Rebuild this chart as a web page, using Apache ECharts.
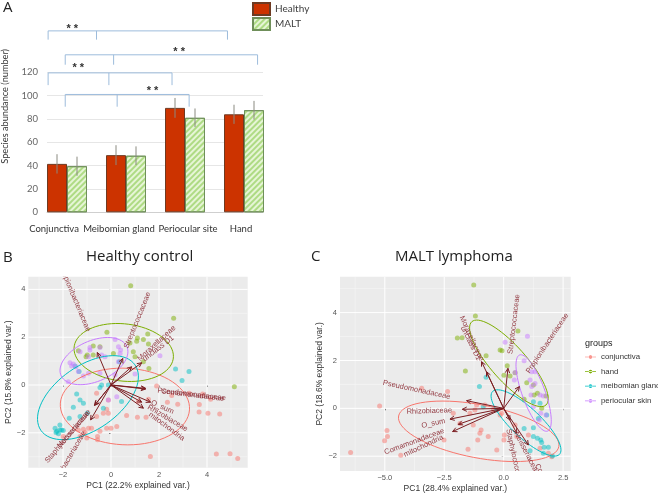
<!DOCTYPE html>
<html><head><meta charset="utf-8">
<style>html,body{margin:0;padding:0;background:#fff}#c{width:658px;height:494px}</style>
<script src="https://cdn.jsdelivr.net/npm/echarts@6/dist/echarts.min.js"></script>
</head><body><div id="c"></div>
<script>
// Panel A
const sites = ['Conjunctiva','Meibomian gland','Periocular site','Hand'];
const healthy = [41.5,49,89.5,84];
const malt = [39.5,48.5,81,87.5];
const healthyErr = [8.3,8.5,8.5,8.2];
const maltErr = [8.2,8,8,8];
// brackets: left, middle, right (site axis position), top, bottom (abundance), star x, star y
const brackets = [
 [0.18,1.0,3.22,155.5,148,0.59,157.5],
 [0.47,1.29,3.73,135,126.5,2.4,137.5],
 [0.18,1.21,2.28,119.5,109,0.69,123.5],
 [0.47,1.35,2.57,101,90.5,1.95,104]
];
// Panel B
const bConj = [[4.96,-2.88],[4.39,-2.89],[5.28,-3.07],[1.64,-2.99],[4.53,-1.21],[4.04,-1.18],[3.67,-1.13],[3.68,-.82],[3.26,-.35],[3.82,-.38],[4.15,-.6],[2.78,-.81],[2.35,-.72],[1.9,-.04],[2.53,-.44],[.65,-1.28],[1.46,-1.35],[1.1,-1.35],[-.6,-.35],[-.11,-.63],[-.18,-1.01],[-.11,-1.18],[-.32,-1.18],[-.6,-1.32],[-.94,-1.81],[-1.15,-1.85],[-1.36,-1.88],[-.81,-1.81],[-.46,-1.94],[-.18,-1.81],[0,-1.81],[-1.01,-2.22],[-.56,-2.15],[-.56,-2.29],[-1.08,-1.99],[-1.29,-2.15],[-1.99,-2.15],[.24,-1.74],[1.14,-.69],[1.56,-.6]];
const bHand = [[.82,4.15],[2.61,2.79],[-.17,2.21],[5.14,-.07],[1.1,1.97],[1.07,1.83],[1.53,2.13],[1.35,1.9],[.79,1.76],[1.56,1.71],[.93,1.39],[1,1.18],[1.58,.69],[-.74,1.63],[-1.36,1.43],[-.99,1.25],[-1.04,1.18],[.1,1.32],[-.74,1.25],[1.35,.97],[-.46,1.6]];
const bMeib = [[2.69,.67],[3.25,.56],[2.96,.19],[.35,.97],[-1.5,.79],[-1.33,.56],[-.11,0],[-.46,-.11],[-1.43,-.38],[-1.29,-.63],[-1.15,-.76],[-1.57,-.93],[-.99,-1.18],[-1.74,-1.39],[-2.13,-1.67],[-2.33,-1.81],[-2.26,-1.94],[-2.06,-1.88],[-1.99,-1.9],[-2.19,-2.04],[-2.29,-1.99],[-2.13,-1.88],[-.32,-.97],[-.39,0],[.44,-.69],[-1.29,-1.32]];
const bPeri = [[.17,1.9],[-.46,1.57],[-.88,1.57],[.31,1.6],[.4,1.46],[-1.29,1.39],[-1.71,.93],[-1.57,.88],[-1.64,.79],[-1.36,.56],[-1.46,.76],[-1.78,.14],[-1.15,.38],[-.88,1.46],[-.94,1.18],[-.39,1.25],[-.25,1.18],[.31,.97],[.38,1.32],[2.04,1.22],[1,.46],[.17,.42],[.24,-.49],[-.11,-.63],[-.46,.49],[-.94,.49]];
// ellipses: centre x,y then two conjugate semi-axis vectors
const bEllipses = [[.58,-.9,2.67,-.28,-.35,-1.58],[.53,1.36,2.06,-.28,-.21,-1.18],[-.96,-.53,1.96,1.37,.76,-1.1],[-.71,1,1.36,.63,.39,-.76]];
const bVarNames = ['Propionibacteriaceae','Streptococcaceae','Moraxellaceae','unclass D1','Pseudomonadaceae','Comamonadaceae','O_sum','Rhizobiaceae','mitochondria','Staphylococcaceae','Neisseriaceae','Corynebacteriaceae'];
// arrow tip x,y, label centre x,y
const bLoadings = [[-.57,1.36,-1.51,3.61],[.49,1.11,1.1,2.71],[1.28,.93,1.9,1.74],[.86,.76,1.97,1.53],[1.44,-.14,3.36,-.39],[1.44,-.17,3.4,-.42],[1.65,-.72,2.14,-.93],[1.35,-.97,2.36,-1.39],[1.28,-.72,2.32,-1.74],[-.67,-.83,-1.82,-2.18],[-.69,-.86,-1.54,-1.83],[-.85,-1.46,-1.81,-3.17]];
const bXTicks = [-2,0,2,4];
const bYTicks = [-2,0,2,4];
const bXMinor = [-3,-1,1,3,5];
const bYMinor = [-3,-1,1,3];
// Panel C
const cConj = [[-5.22,.1],[-6.44,-1.84],[-4.91,-.93],[-4.89,-1.18],[-5.01,-1.35],[-4.33,-1.96],[-3.45,.84],[-2.36,.7],[-2.51,-1.32],[-.95,-.91],[-1,-1.04],[-1.5,-1.71],[-1.09,-1.32],[-.65,-1.18],[-.29,-1.74],[.03,-1.11],[.01,-1.32],[.48,-.7],[1.04,-1.11],[1.53,-1.67],[1.88,-1.88],[2.02,-2.02],[-.15,-.28],[-.08,-.21],[-.43,-.07],[-1.28,-.7],[-.79,.14],[-1.14,.14],[-1.21,-.07],[-1.42,-.21],[-1.84,-.63],[-2.12,-.21],[.55,-1.18]];
const cHand = [[-1.26,5.15],[-1.19,3.86],[.6,3.23],[-1.95,2.94],[-1.75,2.95],[-.15,2.44],[-.07,2.41],[-.74,2.2],[-1.61,1.56],[.15,1.78],[.01,1.38],[.27,1.35],[.48,1.49],[1.25,.97],[.97,1.07],[1.28,.56],[1.42,.63],[1.78,.52],[.86,.38],[1.6,0]];
const cMeib = [[-.74,1.3],[-1.02,.91],[1.25,.28],[1.53,.21],[1.25,-1.18],[1.42,-1.25],[1.56,-1.32],[1.7,-1.63],[1.88,-1.63],[2.05,-1.99],[1.6,-1.43],[.86,-.84],[1.25,-.81],[-.86,.07],[-.29,-.07],[1.81,-.28],[1.46,-.42],[1.11,-1.77],[1.67,-1.88]];
const cPeri = [[.06,2.76],[1,3.01],[.86,1.99],[1.18,1.53],[1.32,1.53],[.45,1.18],[.48,1.5],[1.11,1.18],[1.18,.91],[1.53,.56],[1.67,.52],[1.15,.56],[1.78,-.28],[1.5,-.49],[1.56,-.21],[1.25,.07],[1.32,1.04]];
const cEllipses = [[-1.05,-.96,3.37,-.64,-.21,-1.09],[.22,1.88,1.56,-1.74,-.55,-.49],[.94,-.61,1.4,-1.32,-.45,-.42],[1.26,.64,.59,-1.59,-.45,-.17]];
const cVarNames = ['Moraxellaceae','unclass D1','Streptococcaceae','Propionibacteriaceae','Pseudomonadaceae','Rhizobiaceae','O_sum','Comamonadaceae','mitochondria','Staphylococcaceae','Neisseriaceae','Corynebacteriaceae'];
const cLoadings = [[-.93,1.95,-1.35,2.92],[-.72,1.53,-1.39,2.72],[.18,1.67,.43,3.52],[.66,.91,1.84,2.72],[-1.56,.32,-3.66,.77],[-1.74,-.04,-3.13,-.11],[-2.26,-.45,-2.96,-.63],[-1.91,-.67,-3.76,-1.39],[-2.15,-.97,-3.37,-1.57],[.27,-.49,.48,-2.19],[.55,-1.04,.97,-1.88],[1.04,-1.53,2.09,-3.55]];
const cXTicks = [-5,-2.5,0,2.5];
const cYTicks = [-2,0,2,4];
const cXMinor = [-6.25,-3.75,-1.25,1.25];
const cYMinor = [-1,1,3,5];
const groups = ['conjunctiva','hand','meibomian gland','periocular skin'];

const groupColors = ['#F8766D','#7CAE00','#00BFC4','#C77CFF'];
const ARROW = '#7b1e22';
const sans = '"Liberation Sans", Arial, sans-serif';
const title = '"Open Sans", sans-serif';
const office = 'Lato, sans-serif';

function errorBars(vals, errs, side){
  return {type:'custom', xAxisIndex:1, yAxisIndex:1, silent:true, z:5,
    data: vals.map((v,i)=>[i, v-errs[i], v+errs[i]]),
    renderItem(p, api){
      const lo = api.coord([api.value(0), api.value(1)]);
      const hi = api.coord([api.value(0), api.value(2)]);
      const x = lo[0] + side*10;
      return {type:'line', shape:{x1:x,y1:lo[1],x2:x,y2:hi[1]}, style:{stroke:'#8a8a80',lineWidth:1}};
    }};
}
const bracketSeries = {type:'custom', xAxisIndex:2, yAxisIndex:1, silent:true, clip:false, z:6,
  data: brackets,
  renderItem(p, api){
    const v = i => api.value(i);
    const L = api.coord([v(0),v(3)]), M = api.coord([v(1),v(3)]), R = api.coord([v(2),v(3)]);
    const bot = api.coord([v(0),v(4)])[1];
    const st = {stroke:'#9dbcdc',lineWidth:1,fill:null};
    const s = api.coord([v(5),v(6)]);
    return {type:'group', children:[
      {type:'polyline', shape:{points:[[L[0],bot],L,R,[R[0],bot]]}, style:st},
      {type:'line', shape:{x1:M[0],y1:M[1],x2:M[0],y2:bot}, style:st},
      {type:'text', x:s[0], y:s[1], style:{text:'* *',font:'bold 11px '+sans,fill:'#333',align:'center',verticalAlign:'middle'}}
    ]};
  }};

function gridLines(xMajor,yMajor,xMinor,yMinor,xi,yi){
  const rows = [
    ...xMinor.map(v=>[v,NaN,0]), ...yMinor.map(v=>[NaN,v,0]),
    ...xMajor.map(v=>[v,NaN,1]), ...yMajor.map(v=>[NaN,v,1])
  ];
  return {type:'custom', xAxisIndex:xi, yAxisIndex:yi, silent:true, z:1, clip:true, data:rows.map(r=>r.map(v=>isNaN(v)?'-':v)),
    renderItem(p, api){
      const r = rows[p.dataIndex], c = p.coordSys;
      const st = {stroke:r[2]?'#fff':'#f6f6f6',lineWidth:r[2]?1:.6,fill:null};
      if(!isNaN(r[0])){ const x = api.coord([r[0],0])[0]; return {type:'line',shape:{x1:x,y1:c.y,x2:x,y2:c.y+c.height},style:st}; }
      const y = api.coord([0,r[1]])[1];
      return {type:'line',shape:{x1:c.x,y1:y,x2:c.x+c.width,y2:y},style:st};
    }};
}
function ellipseSeries(rows, xi, yi){
  return rows.map((row,g)=>({type:'custom', name:groups[g], xAxisIndex:xi, yAxisIndex:yi, silent:true, z:3, clip:false,
    data:[row], itemStyle:{color:groupColors[g]},
    renderItem(p, api){
      const pts=[];
      for(let k=0;k<72;k++){
        const t=k/72*Math.PI*2, c=Math.cos(t), s=Math.sin(t);
        pts.push(api.coord([api.value(0)+api.value(2)*c+api.value(4)*s, api.value(1)+api.value(3)*c+api.value(5)*s]));
      }
      return {type:'polygon', shape:{points:pts}, style:{stroke:groupColors[g],lineWidth:1,fill:null}};
    }}));
}
function pointSeries(sets, xi, yi){
  return sets.map((d,g)=>({type:'scatter', name:groups[g], xAxisIndex:xi, yAxisIndex:yi, silent:true, z:2,
    data:d, symbolSize:5, itemStyle:{color:groupColors[g],opacity:.5}}));
}
function biplotArrows(names, rows, xi, yi){
  return {type:'custom', xAxisIndex:xi, yAxisIndex:yi, silent:true, clip:true, z:4, data:rows,
    renderItem(p, api){
      const O = api.coord([0,0]), T = api.coord([api.value(0),api.value(1)]), L = api.coord([api.value(2),api.value(3)]);
      const a = Math.atan2(T[1]-O[1],T[0]-O[0]);
      const h=5, w=.45;
      const st = {stroke:ARROW,lineWidth:1,fill:null};
      let r = Math.atan2(L[1]-O[1],L[0]-O[0]);
      if(Math.cos(r)<0) r+=Math.PI;
      return {type:'group', children:[
        {type:'line', shape:{x1:O[0],y1:O[1],x2:T[0],y2:T[1]}, style:st},
        {type:'polyline', shape:{points:[[T[0]-h*Math.cos(a-w),T[1]-h*Math.sin(a-w)],T,[T[0]-h*Math.cos(a+w),T[1]-h*Math.sin(a+w)]]}, style:st},
        {type:'text', x:L[0], y:L[1], rotation:-r, style:{text:names[p.dataIndex],font:'7.5px '+sans,fill:'#8b2a33',align:'center',verticalAlign:'middle',opacity:.9}}
      ]};
    }};
}
function ggAxis(min,max,ticks,name,gridIndex,gap,fmt){
  return {type:'value',gridIndex,min,max,name,nameLocation:'middle',nameGap:gap,
    nameTextStyle:{fontFamily:sans,fontSize:8.5,color:'#333'},
    axisLine:{show:false},axisTick:{show:true,length:2,customValues:ticks,lineStyle:{color:'#444'}},
    axisLabel:{customValues:ticks,margin:3,fontFamily:sans,fontSize:7.5,color:'#555',hideOverlap:false,formatter:fmt},
    splitLine:{show:false}};
}
const intFmt = v=>(v<0?'\u2212':'')+Math.abs(v);
const decFmt = v=>(v<0?'\u2212':'')+Math.abs(v).toFixed(1);
const hatch = {color:'#aedb84',symbol:'rect',dashArrayX:[1,0],dashArrayY:[1.2,2],rotation:-Math.PI/4};

const option = {
  animation:false, backgroundColor:'#fff',
  grid:[
    {left:47,top:72.3,width:216,height:140},
    {left:37.5,top:72.3,width:236,height:140},
    {left:28.3,top:276.7,width:219.4,height:191,backgroundColor:'#EBEBEB',show:true,borderWidth:0},
    {left:340,top:276.7,width:230.7,height:194.3,backgroundColor:'#EBEBEB',show:true,borderWidth:0}
  ],
  xAxis:[
    {type:'value',gridIndex:0,min:0,max:1,axisLabel:{show:false},axisTick:{show:false},splitLine:{show:false},axisLine:{show:true,onZero:false,lineStyle:{color:'#cfcfcf'}}},
    {type:'category',gridIndex:1,data:sites,axisLine:{show:false},axisTick:{show:false},
      axisLabel:{margin:12,interval:0,fontFamily:office,fontSize:9.5,color:'#333',
        formatter:v=>'{s'+sites.indexOf(v)+'|'+v+'}',
        rich:{s0:{padding:[0,26,0,0]},s1:{padding:[0,14,0,0]},s2:{padding:[0,0,0,6]},s3:{padding:[0,6,0,0]}}}},
    {type:'value',gridIndex:1,show:false,min:0,max:4},
    ggAxis(-3.446,5.696,bXTicks,'PC1 (22.2% explained var.)',2,13,intFmt),
    ggAxis(-6.886,2.82,cXTicks,'PC1 (28.4% explained var.)',3,13,decFmt)
  ],
  yAxis:[
    {type:'value',gridIndex:0,min:0,max:120,interval:20,name:'Species abundance (number)',nameLocation:'middle',nameGap:37,
     nameTextStyle:{fontFamily:office,fontSize:9.2,color:'#333',padding:[0,0,0,72]},
     axisLine:{show:false},axisTick:{show:false},axisLabel:{margin:9,fontFamily:office,fontSize:9.5,color:'#666'},
     splitLine:{lineStyle:{color:'#e6e6e6',width:1}}},
    {type:'value',gridIndex:1,show:false,min:0,max:120},
    ggAxis(-3.46,4.53,bYTicks,'PC2 (15.8% explained var.)',2,12,intFmt),
    ggAxis(-2.618,5.5,cYTicks,'PC2 (18.6% explained var.)',3,14,intFmt)
  ],
  legend:[
    {data:['Healthy','MALT'],orient:'vertical',left:252,top:2,padding:0,icon:'rect',itemWidth:17,itemHeight:12,itemGap:1,selectedMode:false,
     textStyle:{fontFamily:office,fontSize:10,color:'#404040'}},
    {data:groups,orient:'vertical',left:585,top:353,padding:0,itemWidth:11,itemHeight:7,itemGap:6.6,selectedMode:false,
     icon:'path://M0 4.6H12V5.4H0Z M4 5a2 2 0 1 0 4 0a2 2 0 1 0-4 0Z',
     itemStyle:{opacity:1},textStyle:{fontFamily:sans,fontSize:7.8,color:'#333'}}
  ],
  graphic:[
    {type:'text',left:3,top:0,style:{text:'A',font:'15px '+title,fill:'#222'}},
    {type:'text',left:3,top:250,style:{text:'B',font:'15px '+title,fill:'#222'}},
    {type:'text',left:311,top:249,style:{text:'C',font:'15px '+title,fill:'#222'}},
    {type:'text',left:86,top:249,style:{text:'Healthy control',font:'15px '+title,fill:'#222'}},
    {type:'text',left:395,top:249,style:{text:'MALT lymphoma',font:'15px '+title,fill:'#222'}},
    {type:'text',left:585,top:339,style:{text:'groups',font:'9px '+sans,fill:'#222'}}
  ],
  series:[
    {type:'bar',name:'Healthy',xAxisIndex:1,yAxisIndex:1,data:healthy,barWidth:20,barGap:0,silent:true,
     itemStyle:{color:'#CC3300',borderColor:'#6e3a22',borderWidth:1}},
    {type:'bar',name:'MALT',xAxisIndex:1,yAxisIndex:1,data:malt,barWidth:20,barGap:0,silent:true,
     itemStyle:{color:'#e6f5d6',borderColor:'#6f8f5a',borderWidth:1,decal:hatch}},
    errorBars(healthy,healthyErr,-1),
    errorBars(malt,maltErr,1),
    bracketSeries,
    gridLines(bXTicks,bYTicks,bXMinor,bYMinor,3,2),
    ...pointSeries([bConj,bHand,bMeib,bPeri],3,2),
    ...ellipseSeries(bEllipses,3,2),
    biplotArrows(bVarNames,bLoadings,3,2),
    gridLines(cXTicks,cYTicks,cXMinor,cYMinor,4,3),
    ...pointSeries([cConj,cHand,cMeib,cPeri],4,3),
    ...ellipseSeries(cEllipses,4,3),
    biplotArrows(cVarNames,cLoadings,4,3)
  ]
};
echarts.init(document.getElementById('c'),null,{renderer:'canvas'}).setOption(option);
</script></body></html>
